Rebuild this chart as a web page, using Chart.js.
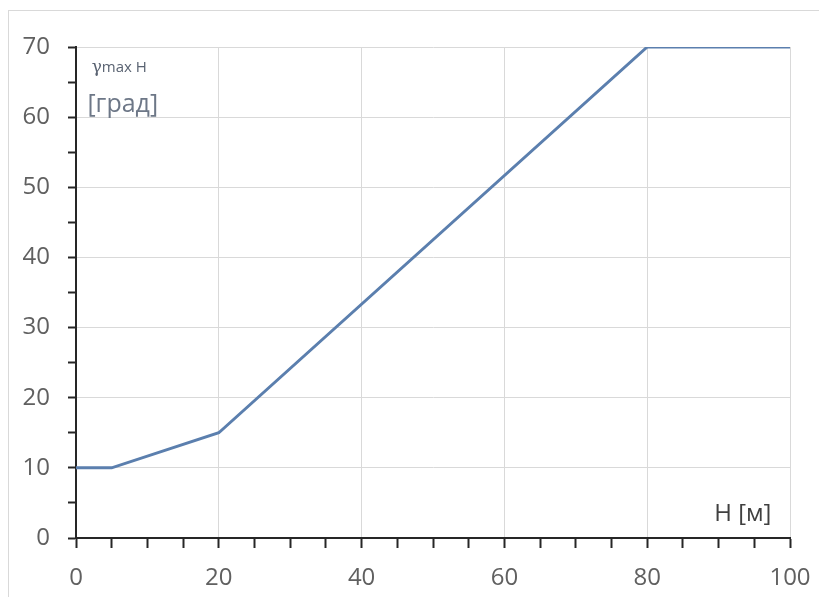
<!DOCTYPE html>
<html>
<head>
<meta charset="utf-8">
<script src="https://cdn.jsdelivr.net/npm/chart.js@4.4.0/dist/chart.umd.min.js"></script>
<style>
  html, body { margin: 0; padding: 0; background: #fff; }
  #wrap { width: 819px; height: 597px; position: relative; }
</style>
</head>
<body>
<div id="wrap"><canvas id="chart" width="819" height="597"></canvas></div>
<script>
// H [м] vs gamma max H [град]
const heights = [0, 5, 20, 80, 100];
const angles = [10, 10, 15, 70, 70];

const yTitle1 = "γ";
const yTitle2 = "max H";
const yUnit = "[град]";
const xTitle = "H [м]";

const points = heights.map((h, i) => ({ x: h, y: angles[i] }));

// frame + in-plot axis captions
const captions = {
  id: "captions",
  beforeDraw(chart) {
    const c = chart.ctx;
    c.save();
    c.strokeStyle = "#d9d9d9";
    c.lineWidth = 1;
    c.strokeRect(8.5, 10.5, 830, 600);
    c.restore();
  },
  afterDraw(chart) {
    const c = chart.ctx;
    const xs = chart.scales.x, ys = chart.scales.y;
    c.save();
    c.textBaseline = "alphabetic";
    c.textAlign = "left";
    let x0 = xs.getPixelForValue(2.2);
    let yb = ys.getPixelForValue(66.4);
    c.fillStyle = "#5a6372";
    c.font = "17px 'DejaVu Serif'";
    c.fillText(yTitle1, x0, yb);
    const w = c.measureText(yTitle1).width;
    c.font = "15px 'Open Sans'";
    c.fillText(yTitle2, x0 + w, yb);
    c.fillStyle = "#6d7787";
    c.font = "25px 'Open Sans'";
    c.fillText(yUnit, xs.getPixelForValue(1.6), ys.getPixelForValue(60.8));
    c.fillStyle = "#404040";
    c.font = "24px 'Open Sans'";
    c.textAlign = "right";
    c.fillText(xTitle, xs.getPixelForValue(97.4), ys.getPixelForValue(2.4));
    c.restore();
  }
};

const gridColor = (major) => (ctx) =>
  ctx.tick && ctx.tick.value % major === 0 && ctx.tick.value !== 0 ? "#d9d9d9" : "rgba(0,0,0,0)";

const chart = new Chart(document.getElementById("chart"), {
  type: "scatter",
  data: {
    datasets: [{
      data: points,
      showLine: true,
      borderColor: "#5b7fae",
      borderWidth: 3,
      pointRadius: 0,
      tension: 0,
    }],
  },
  options: {
    responsive: false,
    animation: false,
    layout: { padding: { top: 47, right: 29, left: 0, bottom: 0 } },
    plugins: { legend: { display: false }, tooltip: { enabled: false } },
    scales: {
      x: {
        type: "linear",
        min: 0,
        max: 100,
        afterFit: (s) => { s.height = 59; s.paddingRight = 0; s.paddingLeft = 0; },
        ticks: {
          stepSize: 5,
          autoSkip: false,
          maxRotation: 0,
          padding: 16,
          color: "#606060",
          font: { family: "Open Sans", size: 24 },
          callback: (v) => (v % 20 === 0 ? v : ""),
        },
        grid: {
          color: gridColor(20),
          tickColor: "#262626",
          tickLength: 10,
          tickWidth: 2,
        },
        border: { color: "#262626", width: 2 },
      },
      y: {
        min: 0,
        max: 70,
        afterFit: (s) => { s.width = 76; s.paddingTop = 0; s.paddingBottom = 0; },
        ticks: {
          stepSize: 5,
          autoSkip: false,
          padding: 18,
          color: "#606060",
          font: { family: "Open Sans", size: 24 },
          callback: (v) => (v % 10 === 0 ? v : ""),
        },
        grid: {
          color: gridColor(10),
          tickColor: "#262626",
          tickLength: (ctx) => (ctx.tick && ctx.tick.value % 10 === 0 ? 11 : 8),
          tickWidth: 2,
        },
        border: { color: "#262626", width: 2 },
      },
    },
  },
  plugins: [captions],
});
</script>
</body>
</html>
